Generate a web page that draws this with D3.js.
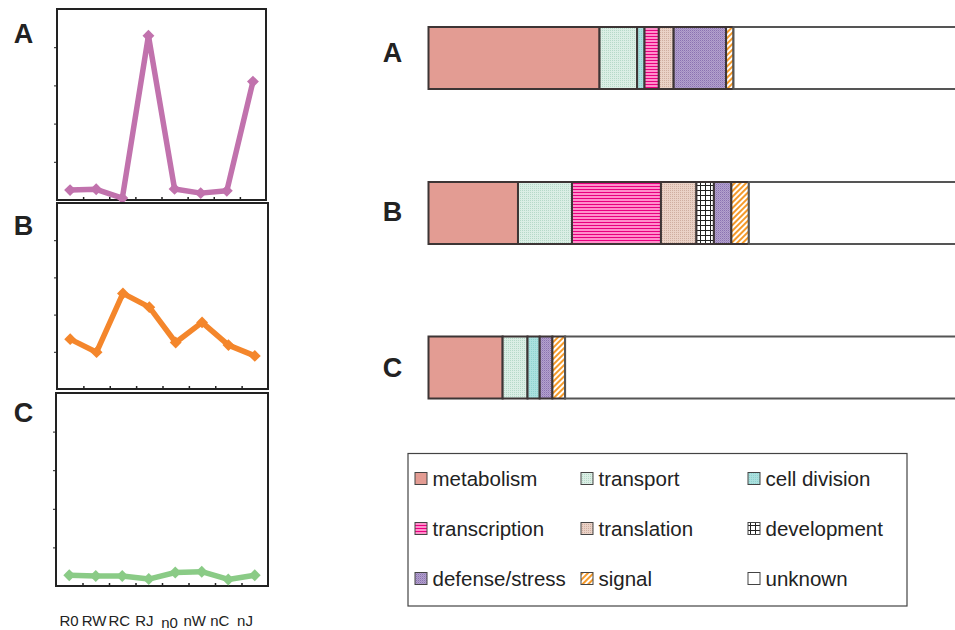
<!DOCTYPE html>
<html><head><meta charset="utf-8">
<script src="https://cdn.jsdelivr.net/npm/d3@7"></script>
<style>
html,body{margin:0;padding:0;background:#fff;}
svg{display:block;font-family:"Liberation Sans",Arial,sans-serif;}
</style></head>
<body>
<svg id="chart" width="955" height="630"></svg>
<script>
// ---------- data ----------
const samples = ["R0","RW","RC","RJ","n0","nW","nC","nJ"];
const profileA = [0.26, 0.28, 0.05, 4.3, 0.29, 0.18, 0.24, 3.1];
const profileB = [1.34, 0.99, 2.57, 2.2, 1.25, 1.79, 1.18, 0.89];
const profileC = [0.28, 0.26, 0.26, 0.18, 0.35, 0.37, 0.17, 0.28];
const yTicks = [0, 1, 2, 3, 4, 5];

const groups = ["A","B","C"];
const categories = ["metabolism","transport","cell division","transcription","translation","development","defense/stress","signal","unknown"];
const shareA = [32.3, 7.1, 1.4, 2.7, 2.8, 0,   9.9, 1.4, 42.4];
const shareB = [16.9, 10.2, 0,  16.8, 6.7, 3.3, 3.3, 3.3, 39.5];
const shareC = [14.0, 4.7, 2.3, 0,   0,   0,   2.4, 2.4, 74.2];

// ---------- styles ----------
const svg = d3.select("#chart");
const defs = svg.append("defs");

function pat(id, w, h, bg, draw) {
  const p = defs.append("pattern").attr("id", id).attr("patternUnits","userSpaceOnUse")
    .attr("width", w).attr("height", h);
  p.append("rect").attr("width", w).attr("height", h).attr("fill", bg);
  draw(p);
}
pat("p-transport", 2, 2, "#dbeee5", p => {
  p.append("rect").attr("x",0).attr("y",0).attr("width",1).attr("height",1).attr("fill","#b6d9c8");
});
pat("p-celldiv", 2, 2, "#abe0de", p => {
  p.append("rect").attr("x",1).attr("y",1).attr("width",1).attr("height",1).attr("fill","#8fd3d0");
});
pat("p-transcription", 4, 3, "#ff8fcb", p => {
  p.append("rect").attr("x",0).attr("y",0).attr("width",4).attr("height",1).attr("fill","#e8007f");
});
pat("p-translation", 2, 2, "#ead2c7", p => {
  p.append("rect").attr("x",0).attr("y",0).attr("width",1).attr("height",1).attr("fill","#cfaea0");
});
pat("p-development", 5, 5, "#ffffff", p => {
  p.append("rect").attr("x",0).attr("y",0).attr("width",5).attr("height",1).attr("fill","#222");
  p.append("rect").attr("x",0).attr("y",0).attr("width",1).attr("height",5).attr("fill","#222");
});
pat("p-defense", 2, 2, "#b4a2cc", p => {
  p.append("rect").attr("x",0).attr("y",0).attr("width",1).attr("height",1).attr("fill","#8a72b2");
  p.append("rect").attr("x",1).attr("y",1).attr("width",1).attr("height",1).attr("fill","#a08cc2");
});
pat("p-signal", 4, 4, "#ffffff", p => {
  p.attr("patternTransform","rotate(45)");
  p.append("rect").attr("x",0).attr("y",0).attr("width",2).attr("height",4).attr("fill","#f59a2a");
});

const fills = ["#e39c93","url(#p-transport)","url(#p-celldiv)","url(#p-transcription)","url(#p-translation)",
               "url(#p-development)","url(#p-defense)","url(#p-signal)","#ffffff"];
const fillScale = d3.scaleOrdinal().domain(categories).range(fills);

// ---------- left line panels ----------
const panels = [
  {key:"A", values:profileA, color:"#c172ad", x0:57, x1:266, y0:9,   y1:200, ly:43},
  {key:"B", values:profileB, color:"#f4862b", x0:57, x1:268, y0:203, y1:389, ly:235},
  {key:"C", values:profileC, color:"#8acb86", x0:56, x1:268, y0:393, y1:586, ly:422}
];

panels.forEach(pn => {
  const g = svg.append("g");
  const x = d3.scaleBand().domain(samples).range([pn.x0, pn.x1]).padding(0);
  const y = d3.scaleLinear().domain([0, 5]).range([pn.y1, pn.y0]);

  g.append("rect").attr("x", pn.x0).attr("y", pn.y0)
    .attr("width", pn.x1 - pn.x0).attr("height", pn.y1 - pn.y0)
    .attr("fill", "none").attr("stroke", "#222").attr("stroke-width", 2);

  const ya = d3.axisLeft(y).tickValues(yTicks.slice(1, -1)).tickSize(3).tickFormat("");
  g.append("g").attr("transform", `translate(${pn.x0},0)`).call(ya)
    .call(s => s.select(".domain").remove())
    .selectAll("line").attr("stroke", "#222").attr("stroke-width", 1);

  const xb = d3.scaleLinear().domain([0, samples.length]).range([pn.x0, pn.x1]);
  const xa = d3.axisBottom(xb).tickValues(d3.range(1, samples.length)).tickSize(-3).tickFormat("");
  g.append("g").attr("transform", `translate(0,${pn.y1})`).call(xa)
    .call(s => s.select(".domain").remove())
    .selectAll("line").attr("stroke", "#222").attr("stroke-width", 1.5);

  const line = d3.line().x((d, i) => x(samples[i]) + x.bandwidth() / 2).y(d => y(d));
  g.append("path").datum(pn.values).attr("d", line)
    .attr("fill", "none").attr("stroke", pn.color).attr("stroke-width", 5.5)
    .attr("stroke-linejoin", "round");

  const sym = d3.symbol().type(d3.symbolDiamond2).size(90);
  g.selectAll("path.pt").data(pn.values).enter().append("path").attr("class", "pt")
    .attr("d", sym)
    .attr("transform", (d, i) => `translate(${x(samples[i]) + x.bandwidth() / 2},${y(d)})`)
    .attr("fill", pn.color);

  svg.append("text").attr("x", 23.5).attr("y", pn.ly).attr("text-anchor", "middle")
    .attr("font-size", 27).attr("font-weight", "bold").attr("fill", "#222").text(pn.key);
});

// sample labels
const xl = d3.scalePoint().domain(samples).range([69, 245]);
svg.append("g").selectAll("text").data(samples).enter().append("text")
  .attr("x", d => xl(d)).attr("y", d => d === "n0" ? 628 : 626)
  .attr("text-anchor", "middle").attr("font-size", 15).attr("fill", "#222")
  .text(d => d);

// ---------- right stacked bars ----------
const table = groups.map((g, gi) => {
  const row = {group: g};
  const src = [shareA, shareB, shareC][gi];
  categories.forEach((c, ci) => row[c] = src[ci]);
  return row;
});
const stack = d3.stack().keys(categories);
const series = stack(table);

const xs = d3.scaleLinear().domain([0, 100]).range([428.5, 958]);
const barTops = {A: 27, B: 182, C: 336.5};
const barH = 62;
const labelY = {A: 61.5, B: 220.5, C: 377};

const bars = svg.append("g");
series.forEach(s => {
  bars.append("g").selectAll("rect").data(s.filter(d => d[1] - d[0] > 0)).enter().append("rect")
    .attr("x", d => xs(d[0])).attr("y", d => barTops[d.data.group])
    .attr("width", d => xs(d[1]) - xs(d[0])).attr("height", barH)
    .attr("fill", fillScale(s.key))
    .attr("stroke", s.key === "unknown" ? "#555" : "#3d3535").attr("stroke-width", 2);
});

groups.forEach(g => {
  svg.append("text").attr("x", 392.5).attr("y", labelY[g]).attr("text-anchor", "middle")
    .attr("font-size", 27).attr("font-weight", "bold").attr("fill", "#222").text(g);
});

// ---------- legend ----------
const lg = svg.append("g");
lg.append("rect").attr("x", 408).attr("y", 453.5).attr("width", 499).attr("height", 152.5)
  .attr("fill", "#fff").attr("stroke", "#444").attr("stroke-width", 1.2);
const colX = [415, 581, 748];
const rowY = [478.5, 528.5, 578.5];
categories.forEach((c, i) => {
  const cx = colX[i % 3], cy = rowY[Math.floor(i / 3)];
  lg.append("rect").attr("x", cx).attr("y", cy - 6).attr("width", 12).attr("height", 12)
    .attr("fill", fillScale(c)).attr("stroke", "#444").attr("stroke-width", 1);
  lg.append("text").attr("x", cx + 17.5).attr("y", cy + 7).attr("font-size", 20.5)
    .attr("fill", "#222").text(c);
});
</script>
</body></html>
